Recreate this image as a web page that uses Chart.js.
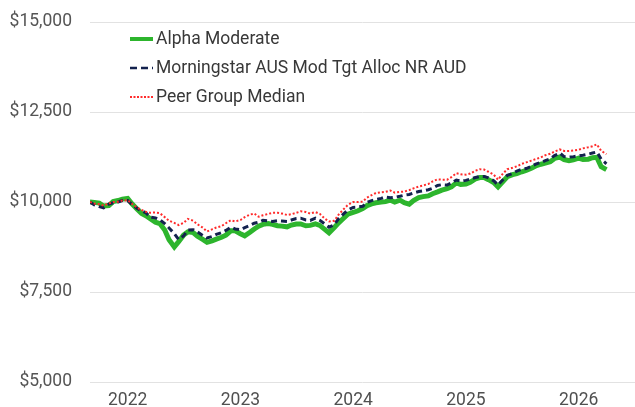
<!DOCTYPE html>
<html>
<head>
<meta charset="utf-8">
<script src="https://cdn.jsdelivr.net/npm/chart.js@4.4.1/dist/chart.umd.min.js"></script>
<style>
  html, body { margin: 0; padding: 0; background: #ffffff; }
  #wrap { width: 635px; height: 407px; position: relative; }
</style>
</head>
<body>
<div id="wrap"><canvas id="c"></canvas></div>
<script>
// ---- Data ----
const seriesNames = ["Alpha Moderate", "Morningstar AUS Mod Tgt Alloc NR AUD", "Peer Group Median"];

const dates = [
  "2021-09-01","2021-09-15","2021-10-01","2021-10-15","2021-11-01","2021-11-15","2021-12-01","2021-12-15",
  "2022-01-01","2022-01-15","2022-02-01","2022-02-15","2022-03-01","2022-03-15","2022-04-01","2022-04-15",
  "2022-05-01","2022-05-15","2022-06-01","2022-06-15","2022-07-01","2022-07-15","2022-08-01","2022-08-15",
  "2022-09-01","2022-09-15","2022-10-01","2022-10-15","2022-11-01","2022-11-15","2022-12-01","2022-12-15",
  "2023-01-01","2023-01-15","2023-02-01","2023-02-15","2023-03-01","2023-03-15","2023-04-01","2023-04-15",
  "2023-05-01","2023-05-15","2023-06-01","2023-06-15","2023-07-01","2023-07-15","2023-08-01","2023-08-15",
  "2023-09-01","2023-09-15","2023-10-01","2023-10-15","2023-11-01","2023-11-15","2023-12-01","2023-12-15",
  "2024-01-01","2024-01-15","2024-02-01","2024-02-15","2024-03-01","2024-03-15","2024-04-01","2024-04-15",
  "2024-05-01","2024-05-15","2024-06-01","2024-06-15","2024-07-01","2024-07-15","2024-08-01","2024-08-15",
  "2024-09-01","2024-09-15","2024-10-01","2024-10-15","2024-11-01","2024-11-15","2024-12-01","2024-12-15",
  "2025-01-01","2025-01-15","2025-02-01","2025-02-15","2025-03-01","2025-03-15","2025-04-01","2025-04-15",
  "2025-05-01","2025-05-15","2025-06-01","2025-06-15","2025-07-01","2025-07-15","2025-08-01","2025-08-15",
  "2025-09-01","2025-09-15","2025-10-01","2025-10-15","2025-11-01","2025-11-15","2025-12-01","2025-12-15",
  "2026-01-01","2026-01-15","2026-02-01","2026-02-15","2026-03-01","2026-03-15","2026-04-01"
];

const alphaModerate = [
  10000,9990,9970,9890,9900,10010,10040,10080,10100,9950,9800,9680,9620,9540,9440,9400,
  9220,8950,8750,8900,9080,9170,9150,9050,8960,8880,8920,8970,9020,9080,9200,9200,
  9120,9060,9160,9250,9330,9380,9400,9380,9340,9330,9310,9360,9390,9390,9340,9350,
  9390,9350,9240,9140,9290,9420,9550,9660,9710,9750,9820,9900,9950,9980,10000,10010,
  10050,10000,10050,9980,9940,10040,10120,10150,10170,10230,10280,10330,10370,10420,10530,10490,
  10500,10550,10640,10680,10680,10620,10540,10420,10570,10700,10760,10790,10840,10880,10940,11000,
  11050,11080,11120,11210,11250,11180,11150,11170,11220,11180,11190,11230,11240,10980,10900
];

const morningstarIndex = [
  10000,9920,9870,9840,9940,9980,10000,10040,10040,9930,9820,9750,9700,9580,9560,9510,
  9400,9280,9120,8960,9060,9220,9230,9170,9070,9000,9040,9100,9150,9210,9300,9250,
  9230,9290,9350,9410,9440,9490,9480,9460,9480,9470,9460,9500,9540,9550,9500,9490,
  9550,9490,9390,9300,9370,9540,9670,9780,9850,9860,9880,9990,10040,10070,10100,10140,
  10120,10130,10160,10190,10210,10250,10290,10310,10340,10380,10460,10480,10470,10530,10610,10580,
  10600,10640,10680,10710,10710,10670,10590,10470,10620,10740,10790,10860,10910,10930,10990,11050,
  11100,11150,11200,11290,11360,11260,11250,11260,11280,11300,11330,11360,11390,11190,11060
];

const peerGroupMedian = [
  10000,9960,9940,9900,9960,10000,10010,10040,10050,9950,9840,9780,9730,9700,9710,9690,
  9580,9480,9420,9360,9420,9530,9480,9380,9290,9180,9240,9290,9330,9410,9490,9460,
  9500,9580,9650,9680,9590,9630,9670,9700,9700,9680,9640,9660,9700,9740,9720,9680,
  9720,9670,9540,9460,9480,9650,9800,9920,10000,10000,10010,10120,10190,10250,10270,10280,
  10320,10260,10280,10290,10330,10380,10430,10460,10500,10570,10630,10620,10620,10690,10800,10770,
  10760,10790,10870,10910,10900,10840,10760,10620,10790,10910,10950,10990,11060,11100,11150,11190,
  11240,11300,11340,11400,11460,11420,11420,11430,11450,11490,11520,11550,11600,11420,11330
];

const yTicks = [5000, 7500, 10000, 12500, 15000];
const xTickYears = [2022, 2023, 2024, 2025, 2026];

// ---- helpers ----
function decimalYear(s) {
  const [y, m, d] = s.split("-").map(Number);
  const start = Date.UTC(y, 0, 1), end = Date.UTC(y + 1, 0, 1);
  return y + (Date.UTC(y, m - 1, d) - start) / (end - start);
}
function toPoints(vals) {
  return vals.map((v, i) => ({ x: decimalYear(dates[i]), y: v }));
}

const FONT_SIZE = 17.5;
const COLORS = { green: "#2db52d", navy: "#13224e", red: "#ff2b2b" };
const STYLES = [
  { color: COLORS.green, width: 5, dash: [] },
  { color: COLORS.navy, width: 3, dash: [6, 4] },
  { color: COLORS.red, width: 2, dash: [2, 2] }
];

const legendPlugin = {
  id: "insideLegend",
  afterDraw(chart) {
    const ctx = chart.ctx;
    const area = chart.chartArea;
    const x0 = area.left + 40;
    const y0 = area.top + 17;
    const gap = 29;
    ctx.save();
    ctx.font = FONT_SIZE + "px Roboto";
    ctx.textBaseline = "middle";
    ctx.textAlign = "left";
    seriesNames.forEach((name, i) => {
      const y = y0 + i * gap;
      const st = STYLES[i];
      ctx.beginPath();
      ctx.strokeStyle = st.color;
      ctx.lineWidth = i === 0 ? 4 : (i === 1 ? 2.5 : 1.8);
      ctx.setLineDash(i === 1 ? [7, 4] : (i === 2 ? [2, 1.5] : []));
      ctx.moveTo(x0, y);
      ctx.lineTo(x0 + 23, y);
      ctx.stroke();
      ctx.setLineDash([]);
      ctx.fillStyle = "#383838";
      ctx.fillText(name, x0 + 26, y + 1);
    });
    ctx.restore();
  }
};

const allSeries = [alphaModerate, morningstarIndex, peerGroupMedian];
const orders = [3, 2, 1];

new Chart(document.getElementById("c"), {
  type: "line",
  data: {
    datasets: allSeries.map((vals, i) => ({
      label: seriesNames[i],
      data: toPoints(vals),
      borderColor: STYLES[i].color,
      backgroundColor: STYLES[i].color,
      borderWidth: STYLES[i].width,
      borderDash: STYLES[i].dash,
      pointRadius: 0,
      tension: 0,
      fill: false,
      order: orders[i]
    }))
  },
  options: {
    responsive: true,
    maintainAspectRatio: false,
    animation: false,
    layout: { padding: { top: 22, right: 0, bottom: 0, left: 0 } },
    plugins: { legend: { display: false }, tooltip: { enabled: false } },
    scales: {
      x: {
        type: "linear",
        min: 2021.666,
        max: 2026.5,
        grid: { display: false, drawTicks: false },
        border: { display: false },
        afterBuildTicks(scale) { scale.ticks = xTickYears.map(v => ({ value: v })); },
        afterFit(scale) { scale.height = 25; },
        ticks: {
          padding: 8,
          color: "#505050",
          font: { family: "Roboto", size: FONT_SIZE },
          maxRotation: 0,
          autoSkip: false,
          callback: (v) => String(Math.round(v))
        }
      },
      y: {
        min: 5000,
        max: 15000,
        afterBuildTicks(scale) { scale.ticks = yTicks.map(v => ({ value: v })); },
        afterFit(scale) { scale.width = 90; },
        grid: { color: "#e2e2e2", lineWidth: 1, drawTicks: true, tickLength: 18, tickColor: "rgba(0,0,0,0)" },
        border: { display: false },
        ticks: {
          padding: 0,
          color: "#555555",
          font: { family: "Roboto", size: FONT_SIZE },
          callback: (v) => "$" + Number(v).toLocaleString("en-US")
        }
      }
    }
  },
  plugins: [legendPlugin]
});
</script>
</body>
</html>
